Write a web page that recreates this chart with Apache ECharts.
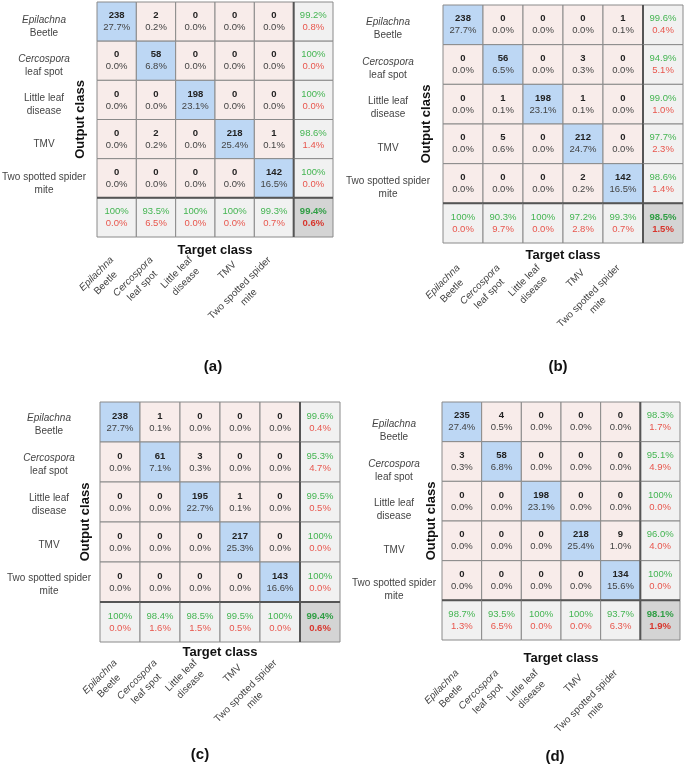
<!DOCTYPE html>
<html>
<head>
<meta charset="utf-8">
<script src="https://cdn.jsdelivr.net/npm/echarts/dist/echarts.min.js"></script>
<style>
	html, body { margin: 0; padding: 0; background: #fff; }
	#chart { width: 685px; height: 764px; }
</style>
</head>
<body>
<div id="chart"></div>
<script>
// class names (first line italic for the two genus names)
var classNames = ['Epilachna\nBeetle', 'Cercospora\nleaf spot', 'Little leaf\ndisease', 'TMV', 'Two spotted spider\nmite'];
var italicFirst = [true, true, false, false, false];

// (a)
var countsA = [[238, 2, 0, 0, 0], [0, 58, 0, 0, 0], [0, 0, 198, 0, 0], [0, 2, 0, 218, 1], [0, 0, 0, 0, 142]];
var pctA = [[27.7, 0.2, 0, 0, 0], [0, 6.8, 0, 0, 0], [0, 0, 23.1, 0, 0], [0, 0.2, 0, 25.4, 0.1], [0, 0, 0, 0, 16.5]];
var rowSumA = [[99.2, 0.8], [100, 0.0], [100, 0.0], [98.6, 1.4], [100, 0.0]];
var colSumA = [[100, 0.0], [93.5, 6.5], [100, 0.0], [100, 0.0], [99.3, 0.7]];
var overallA = [99.4, 0.6];

// (b)
var countsB = [[238, 0, 0, 0, 1], [0, 56, 0, 3, 0], [0, 1, 198, 1, 0], [0, 5, 0, 212, 0], [0, 0, 0, 2, 142]];
var pctB = [[27.7, 0, 0, 0, 0.1], [0, 6.5, 0, 0.3, 0], [0, 0.1, 23.1, 0.1, 0], [0, 0.6, 0, 24.7, 0], [0, 0, 0, 0.2, 16.5]];
var rowSumB = [[99.6, 0.4], [94.9, 5.1], [99.0, 1.0], [97.7, 2.3], [98.6, 1.4]];
var colSumB = [[100, 0.0], [90.3, 9.7], [100, 0.0], [97.2, 2.8], [99.3, 0.7]];
var overallB = [98.5, 1.5];

// (c)
var countsC = [[238, 1, 0, 0, 0], [0, 61, 3, 0, 0], [0, 0, 195, 1, 0], [0, 0, 0, 217, 0], [0, 0, 0, 0, 143]];
var pctC = [[27.7, 0.1, 0, 0, 0], [0, 7.1, 0.3, 0, 0], [0, 0, 22.7, 0.1, 0], [0, 0, 0, 25.3, 0], [0, 0, 0, 0, 16.6]];
var rowSumC = [[99.6, 0.4], [95.3, 4.7], [99.5, 0.5], [100, 0.0], [100, 0.0]];
var colSumC = [[100, 0.0], [98.4, 1.6], [98.5, 1.5], [99.5, 0.5], [100, 0.0]];
var overallC = [99.4, 0.6];

// (d)
var countsD = [[235, 4, 0, 0, 0], [3, 58, 0, 0, 0], [0, 0, 198, 0, 0], [0, 0, 0, 218, 9], [0, 0, 0, 0, 134]];
var pctD = [[27.4, 0.5, 0, 0, 0], [0.3, 6.8, 0, 0, 0], [0, 0, 23.1, 0, 0], [0, 0, 0, 25.4, 1.0], [0, 0, 0, 0, 15.6]];
var rowSumD = [[98.3, 1.7], [95.1, 4.9], [100, 0.0], [96.0, 4.0], [100, 0.0]];
var colSumD = [[98.7, 1.3], [93.5, 6.5], [100, 0.0], [100, 0.0], [93.7, 6.3]];
var overallD = [98.1, 1.9];

var FONT = '"Liberation Sans", Arial, sans-serif';

var panels = [
	{ tag: '(a)', counts: countsA, pct: pctA, rowSum: rowSumA, colSum: colSumA, overall: overallA,
		box: { left: 97, top: 2, width: 236, height: 235 }, yShift: 5, yMargin: 53, yNameGap: 10, xMargin: 26, xNameGap: 7, tagPos: [213, 367] },
	{ tag: '(b)', counts: countsB, pct: pctB, rowSum: rowSumB, colSum: colSumB, overall: overallB,
		box: { left: 443, top: 5, width: 240, height: 238 }, yShift: 4, yMargin: 55, yNameGap: 10, xMargin: 28, xNameGap: 6, tagPos: [558, 367] },
	{ tag: '(c)', counts: countsC, pct: pctC, rowSum: rowSumC, colSum: colSumC, overall: overallC,
		box: { left: 100, top: 402, width: 240, height: 240 }, yShift: 3, yMargin: 51, yNameGap: 8, xMargin: 24, xNameGap: 4, tagPos: [200, 755] },
	{ tag: '(d)', counts: countsD, pct: pctD, rowSum: rowSumD, colSum: colSumD, overall: overallD,
		box: { left: 442, top: 402, width: 238, height: 238 }, yShift: 9, yMargin: 48, yNameGap: 4, xMargin: 36, xNameGap: 12, tagPos: [555, 757] }
];

function fmt(v) {
	return v === 100 ? '100%' : v.toFixed(1) + '%';
}

// build the list of cells of one matrix
function buildCells(p) {
	var cells = [];
	for (var r = 0; r < 5; r++) {
		for (var c = 0; c < 5; c++) {
			cells.push({ c: c, r: r, kind: r === c ? 'diag' : 'off', top: String(p.counts[r][c]), bottom: fmt(p.pct[r][c]) });
		}
	}
	for (var i = 0; i < 5; i++) {
		cells.push({ c: 5, r: i, kind: 'sum', top: fmt(p.rowSum[i][0]), bottom: fmt(p.rowSum[i][1]) });
		cells.push({ c: i, r: 5, kind: 'sum', top: fmt(p.colSum[i][0]), bottom: fmt(p.colSum[i][1]) });
	}
	cells.push({ c: 5, r: 5, kind: 'total', top: fmt(p.overall[0]), bottom: fmt(p.overall[1]) });
	return cells;
}

var fills = { diag: '#bdd7f4', off: '#f8ecea', sum: '#f1f1f1', total: '#d4d4d4' };

function cellRenderer(cells) {
	return function (params, api) {
		var d = cells[params.dataIndex];
		var p = api.coord([d.c, d.r]);
		var s = api.size([1, 1]);
		var x = p[0] - s[0] / 2, y = p[1] - s[1] / 2;
		var topColor = '#222', botColor = '#444', topWeight = 'bold', botWeight = 'normal';
		if (d.kind === 'sum') {
			topColor = '#44b552'; botColor = '#e8564d'; topWeight = 'normal';
		} else if (d.kind === 'total') {
			topColor = '#2f9e44'; botColor = '#d8362d'; botWeight = 'bold';
		}
		var children = [
			{ type: 'rect', shape: { x: x, y: y, width: s[0], height: s[1] },
				style: { fill: fills[d.kind], stroke: '#8a8a8a', lineWidth: 1 } },
			{ type: 'text', style: { text: d.top, x: p[0], y: p[1] - 6, align: 'center', verticalAlign: 'middle',
				fill: topColor, fontSize: 9.5, fontWeight: topWeight, fontFamily: FONT } },
			{ type: 'text', style: { text: d.bottom, x: p[0], y: p[1] + 6, align: 'center', verticalAlign: 'middle',
				fill: botColor, fontSize: 9.5, fontWeight: botWeight, fontFamily: FONT } }
		];
		// thick separators in front of the summary row / column
		if (d.c === 5) {
			children.push({ type: 'line', shape: { x1: x, y1: y, x2: x, y2: y + s[1] }, style: { stroke: '#555', lineWidth: 2 } });
		}
		if (d.r === 5) {
			children.push({ type: 'line', shape: { x1: x, y1: y, x2: x + s[0], y2: y }, style: { stroke: '#555', lineWidth: 2 } });
		}
		return { type: 'group', children: children };
	};
}

function labelFormatter(v, idx) {
	if (!v) return '';
	var parts = v.split('\n');
	var first = (italicFirst[idx] ? '{it|' : '{n|') + parts[0] + '}';
	return parts.length > 1 ? first + '\n{n|' + parts[1] + '}' : first;
}

var labelRich = {
	it: { fontStyle: 'italic', fontSize: 10, color: '#444', lineHeight: 13, align: 'center', fontFamily: FONT },
	n: { fontSize: 10, color: '#444', lineHeight: 13, align: 'center', fontFamily: FONT }
};

var cats = classNames.concat(['']);
var grids = [], xAxes = [], yAxes = [], series = [], graphics = [];

panels.forEach(function (p, i) {
	var cells = buildCells(p);
	grids.push({ left: p.box.left, top: p.box.top, width: p.box.width, height: p.box.height, containLabel: false, outerBoundsMode: 'none' });
	xAxes.push({
		gridIndex: i, type: 'category', data: cats,
		axisLine: { show: false }, axisTick: { show: false }, splitLine: { show: false },
		name: 'Target class', nameLocation: 'middle', nameGap: p.xNameGap, nameMoveOverlap: false,
		nameTextStyle: { fontWeight: 'bold', fontSize: 13, color: '#111', fontFamily: FONT, verticalAlign: 'top' },
		axisLabel: { rotate: 45, interval: 0, margin: p.xMargin, formatter: labelFormatter, rich: labelRich }
	});
	yAxes.push({
		gridIndex: i, type: 'category', data: cats, inverse: true,
		axisLine: { show: false }, axisTick: { show: false }, splitLine: { show: false },
		name: 'Output class', nameLocation: 'middle', nameGap: p.yNameGap, nameMoveOverlap: false,
		nameTextStyle: { fontWeight: 'bold', fontSize: 13, color: '#111', fontFamily: FONT },
		axisLabel: { interval: 0, align: 'center', margin: p.yMargin, padding: [p.yShift * 2, 0, 0, 0],
			formatter: labelFormatter, rich: labelRich }
	});
	series.push({
		type: 'custom', xAxisIndex: i, yAxisIndex: i,
		renderItem: cellRenderer(cells),
		data: cells.map(function (d) { return [d.c, d.r]; }),
		silent: true, animation: false
	});
	graphics.push({
		type: 'text', x: p.tagPos[0], y: p.tagPos[1],
		style: { text: p.tag, fontSize: 15, fontWeight: 'bold', fontFamily: FONT, fill: '#111', align: 'center', verticalAlign: 'middle' }
	});
});

var chart = echarts.init(document.getElementById('chart'));
chart.setOption({
	backgroundColor: '#fff',
	animation: false,
	grid: grids,
	xAxis: xAxes,
	yAxis: yAxes,
	series: series,
	graphic: graphics
});
</script>
</body>
</html>
